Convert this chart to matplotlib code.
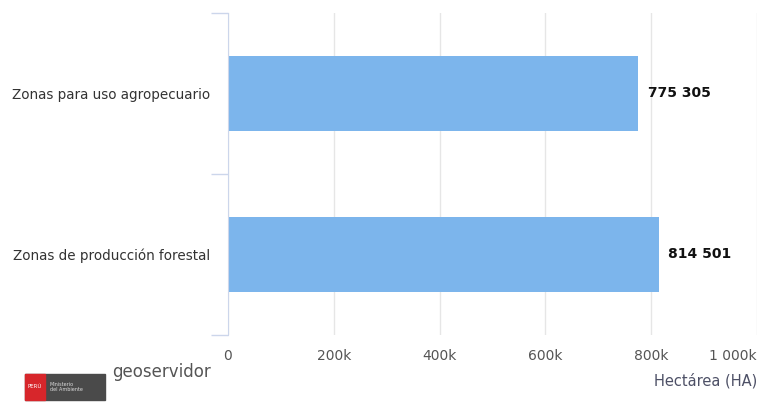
import matplotlib.pyplot as plt
from matplotlib.patches import Rectangle

# datos
categorias = ['Zonas para uso agropecuario', 'Zonas de producción forestal']
hectareas = [775305, 814501]
ticks_x = [0, 200000, 400000, 600000, 800000, 1000000]
etiquetas_x = ['0', '200k', '400k', '600k', '800k', '1 000k']

fig = plt.figure(figsize=(7.61, 4.04), dpi=100)
ax = fig.add_axes([228 / 761, 1 - 335 / 404, (757 - 228) / 761, (335 - 13) / 404])

pos = list(range(len(categorias)))
ax.barh(pos, hectareas, height=0.47, color='#7cb5ec', zorder=2)
for p, v in zip(pos, hectareas):
    txt = f'{v:,}'.replace(',', ' ')
    ax.text(v + 18000, p, txt, va='center', ha='left', fontsize=10,
            fontweight='bold', color='#111111')

ax.set_xlim(0, 1000000)
ax.set_ylim(len(categorias) - 0.5, -0.5)
ax.set_xticks(ticks_x)
ax.set_xticklabels(etiquetas_x)
ax.get_xticklabels()[-1].set_ha('right')
ax.grid(axis='x', color='#e6e6e6', linewidth=1, zorder=0)

ax.set_yticks(pos)
ax.set_yticklabels(categorias)
ax.set_yticks([-0.5, 0.5, 1.5], minor=True)
ax.tick_params(axis='y', which='major', length=0, pad=13, labelsize=9.75, labelcolor='#333333')
ax.tick_params(axis='y', which='minor', length=12, color='#ccd6eb', width=1)
ax.tick_params(axis='x', length=0, pad=10, labelsize=10, labelcolor='#555555')

for s in ['top', 'right', 'bottom']:
    ax.spines[s].set_visible(False)
ax.spines['left'].set_color('#ccd6eb')

fig.text(757 / 761, 1 - 381 / 404, 'Hectárea (HA)', ha='right', va='center',
         fontsize=10.5, color='#4d5066')

# logos (aproximados)
fig.patches.append(Rectangle((25 / 761, 1 - 400 / 404), 80 / 761, 26 / 404,
                             transform=fig.transFigure, color='#4a4a4a'))
fig.patches.append(Rectangle((25 / 761, 1 - 400 / 404), 20 / 761, 26 / 404,
                             transform=fig.transFigure, color='#d7262b'))
fig.text(35 / 761, 1 - 387 / 404, 'PERÚ', color='white', fontsize=4, ha='center', va='center')
fig.text(50 / 761, 1 - 387 / 404, 'Ministerio\ndel Ambiente', color='#dddddd',
         fontsize=3.5, ha='left', va='center')
fig.text(112 / 761, 1 - 372 / 404, 'geoservidor', color='#555555', fontsize=12,
         ha='left', va='center')

fig.savefig('out.png', dpi=100)
